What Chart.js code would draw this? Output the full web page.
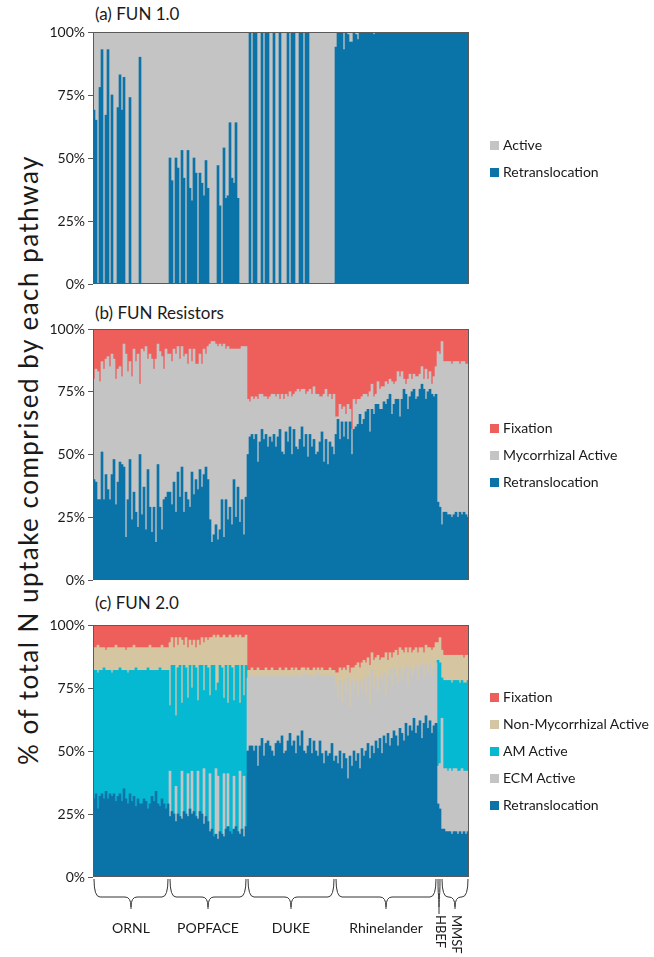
<!DOCTYPE html>
<html><head><meta charset="utf-8"><title>FUN N uptake pathways</title>
<script src="https://cdn.jsdelivr.net/npm/chart.js@4/dist/chart.umd.min.js"></script>
<style>
html,body{margin:0;padding:0;background:#fff;}
body{width:654px;height:957px;position:relative;overflow:hidden;font-family:Lato,"Open Sans",sans-serif;color:#1a1a1a;}
.panel{position:absolute;left:0;width:654px;}
.panel canvas{display:block;}
.ptitle{position:absolute;left:95px;font-size:17px;line-height:20px;white-space:nowrap;}
.legend{position:absolute;left:490px;top:0;font-size:14px;}
.item{position:absolute;left:0;height:18px;line-height:18px;white-space:nowrap;}
.sw{position:absolute;left:0;top:5px;width:9px;height:9px;}
.lbl{position:absolute;left:13px;top:0;}
#ytitle{position:absolute;left:-322px;top:444px;width:700px;height:32px;line-height:32px;text-align:center;font-size:26px;letter-spacing:1.5px;transform:rotate(-90deg);white-space:nowrap;}
</style></head>
<body>
<div id="ytitle">% of total N uptake comprised by each pathway</div>
<div class="ptitle" style="top:4px">(a) FUN 1.0</div>
<div class="ptitle" style="top:303px">(b) FUN Resistors</div>
<div class="ptitle" style="top:593px">(c) FUN 2.0</div>
<div class="panel" style="top:0;height:300px"><canvas id="ca" width="654" height="300"></canvas></div>
<div class="panel" style="top:300px;height:300px"><canvas id="cb" width="654" height="300"></canvas></div>
<div class="panel" style="top:600px;height:357px"><canvas id="cc" width="654" height="357"></canvas></div>
<script>
// ---------- categories ----------
const sites = ['ORNL','POPFACE','DUKE','Rhinelander','HBEF','MMSF'];
const yTicks = [0,25,50,75,100];

// ---------- (a) FUN 1.0 : one sub-array per site ----------
const fun1Retranslocation = [
  [69,65,0,78,93,0,67,93,0,75, 0,0,70,83,69,82,0,0,74,0, 0,0,0,90,0,0,0,0,0,0, 0,0,0,0,0,0,0,0],
  [50,41,0,50,46,0,53,42,0,53, 38,33,50,44,0,44,40,35,49,38, 0,0,0,0,47,31,0,54,34,35, 64,42,40,64,34,0,0,0,0],
  [0,100,0,100,100,0,0,100,0,100, 100,0,0,100,0,0,100,0,0,0, 100,0,100,100,0,0,100,100,0,100, 100,0,0,0,0,0,0,0,0,0, 0,0,0,0],
  [94,100,100,100,93,100,99,96,96,100, 99,97,100,100,100,100,100,100,100,99, 100,100,100,100,100,100,100,100,100,100, 100,100,100,100,100,100,100,100,100,100, 100,100,100,100,100,100,100,100,100,100,100],
  [100,100],
  [100,100,100,100,100,100,100,100,100,100,100,100,100,100]
];
const fun1Active = [
  [31,35,100,22,7,100,33,7,100,25, 100,100,30,17,31,18,100,100,26,100, 100,100,100,10,100,100,100,100,100,100, 100,100,100,100,100,100,100,100],
  [50,59,100,50,54,100,47,58,100,47, 62,67,50,56,100,56,60,65,51,62, 100,100,100,100,53,69,100,46,66,65, 36,58,60,36,66,100,100,100,100],
  [100,0,100,0,0,100,100,0,100,0, 0,100,100,0,100,100,0,100,100,100, 0,100,0,0,100,100,0,0,100,0, 0,100,100,100,100,100,100,100,100,100, 100,100,100,100],
  [6,0,0,0,7,0,1,4,4,0, 1,3,0,0,0,0,0,0,0,1, 0,0,0,0,0,0,0,0,0,0, 0,0,0,0,0,0,0,0,0,0, 0,0,0,0,0,0,0,0,0,0,0],
  [0,0],
  [0,0,0,0,0,0,0,0,0,0,0,0,0,0]
];

// ---------- (b) FUN Resistors ----------
const resRetranslocation = [
  [40,39,32,32,51,32,42,36,32,42, 48,30,39,47,46,45,17,32,48,24, 35,27,21,50,26,37,20,44,29,19, 29,15,46,29,20,32,33,35],
  [35,30,39,27,43,33,45,27,35,32, 29,43,34,40,36,44,37,42,45,40, 24,15,18,22,16,20,32,17,32,24, 29,22,40,25,37,23,32,18,33],
  [50,57,58,56,58,47,55,60,56,58, 53,57,55,58,53,57,60,51,50,59, 55,61,50,60,53,52,56,61,53,58, 49,58,53,56,50,51,55,59,47,56, 46,55,53,50],
  [58,64,56,63,57,63,56,63,50,60, 61,62,66,62,64,67,68,59,68,66, 70,70,68,68,71,70,72,74,66,70, 72,72,65,72,76,74,68,73,75,76, 72,73,76,78,76,72,75,76,74,73,74],
  [31,29],
  [22,27,27,26,26,25,26,27,25,27,26,27,26,25]
];
const resMycorrhizalActive = [
  [40,45,51,47,36,52,46,53,53,48, 40,50,45,38,35,49,73,51,39,57, 57,60,69,28,66,54,73,44,61,69, 55,73,48,62,69,52,59,55],
  [55,57,53,63,50,55,48,62,55,54, 63,44,58,46,50,46,49,50,45,53, 70,80,77,72,77,74,61,77,60,69, 63,70,52,67,55,69,61,75,60],
  [22,14,15,16,15,25,19,14,17,15, 19,16,19,16,20,17,12,23,22,15, 18,14,23,14,22,24,19,15,23,16, 26,18,21,21,24,23,18,14,27,20, 27,19,19,24],
  [7,1,14,5,12,3,14,5,10,12, 9,10,6,11,10,7,5,16,10,7, 4,9,8,9,6,9,6,6,13,8, 7,11,16,11,4,4,12,9,5,6, 9,8,6,7,4,12,5,7,4,8,11],
  [60,61],
  [73,60,60,61,61,61,61,60,62,59,61,60,60,61]
];
const resFixation = [
  [20,16,17,21,13,16,12,11,15,10, 12,20,16,15,19,6,10,17,13,19, 8,13,10,22,8,9,7,12,10,12, 16,12,6,9,11,16,8,10],
  [10,13,8,10,7,12,7,11,10,14, 8,13,8,14,14,10,14,8,10,7, 6,5,5,6,7,6,7,6,8,7, 8,8,8,8,8,8,7,7,7],
  [28,29,27,28,27,28,26,26,27,27, 28,27,26,26,27,26,28,26,28,26, 27,25,27,26,25,24,25,24,24,26, 25,24,26,23,26,26,27,27,26,24, 27,26,28,26],
  [35,35,30,32,31,34,30,32,40,28, 30,28,28,27,26,26,27,25,22,27, 26,21,24,23,23,21,22,20,21,22, 21,17,19,17,20,22,20,18,20,18, 19,19,18,15,20,16,20,17,22,19,15],
  [9,10],
  [5,13,13,13,13,14,13,13,13,14,13,13,14,14]
];

// ---------- (c) FUN 2.0 ----------
const fun2Retranslocation = [
  [31,33,27,32,33,31,34,31,33,32, 33,30,32,33,30,35,31,29,33,30, 32,28,31,29,29,31,30,27,29,32, 30,34,29,28,31,29,27,29],
  [24,26,25,22,25,24,23,26,25,24, 27,25,26,24,23,26,25,21,24,22, 18,19,16,17,15,18,17,16,19,20, 18,17,19,20,18,17,19,16,20],
  [50,52,52,50,52,44,52,55,48,53, 54,52,50,48,53,54,53,56,49,50, 54,57,52,54,49,56,52,58,50,49, 52,55,49,54,50,48,54,49,45,50, 48,49,53,46],
  [48,45,50,43,49,47,39,48,44,50, 46,49,43,51,48,50,53,47,52,49, 54,51,55,49,56,53,57,52,55,58, 56,52,59,57,54,61,56,60,58,63, 57,60,62,55,61,64,59,62,57,60,61],
  [29,27],
  [19,19,18,18,18,17,18,18,17,18,17,18,17,18]
];
const fun2EcmActive = [
  [0,0,0,0,0,0,0,0,0,0, 0,0,0,0,0,0,0,0,0,0, 0,0,0,0,0,0,0,0,0,0, 0,0,0,0,0,0,0,0],
  [18,0,0,14,0,0,19,0,0,17, 0,17,0,0,19,0,0,22,0,0, 23,0,0,26,25,0,0,25,0,21, 0,0,21,0,0,25,0,24,0],
  [29,28,28,29,28,36,27,25,32,27, 25,28,30,31,27,26,27,23,31,30, 26,22,28,26,31,23,28,22,31,31, 28,25,30,26,30,33,26,31,35,30, 31,31,27,34],
  [28,26,28,26,28,26,40,19,34,24, 32,22,34,23,31,22,27,21,30,26, 25,22,25,28,25,19,22,30,21,25, 24,25,24,21,27,23,20,23,22,19, 27,18,21,30,18,20,22,23,23,23,24],
  [15,18],
  [44,24,25,24,25,25,25,25,25,24,26,24,25,24]
];
const fun2AmActive = [
  [51,49,54,50,49,52,48,51,49,49, 49,52,50,50,52,47,51,52,49,52, 50,55,51,53,53,51,52,56,53,50, 52,48,53,55,51,53,55,53],
  [26,58,59,28,58,60,27,58,58,30, 57,33,58,59,28,58,59,31,60,61, 31,65,68,31,37,66,66,30,65,28, 66,66,30,64,66,27,65,32,64],
  [0,0,0,0,0,0,0,0,0,0, 0,0,0,0,0,0,0,0,0,0, 0,0,0,0,0,0,0,0,0,0, 0,0,0,0,0,0,0,0,0,0, 0,0,0,0],
  [0,0,0,0,0,0,0,0,0,0, 0,0,0,0,0,0,0,0,0,0, 0,0,0,0,0,0,0,0,0,0, 0,0,0,0,0,0,0,0,0,0, 0,0,0,0,0,0,0,0,0,0,0],
  [42,40],
  [16,35,35,36,35,35,35,35,36,35,35,35,35,36]
];
const fun2NonMycorrhizalActive = [
  [9,9,11,9,9,8,8,9,9,10, 9,10,9,8,9,9,8,10,9,9, 10,8,9,9,9,9,9,8,10,9, 9,9,9,8,10,9,9,9],
  [25,11,7,31,9,11,25,8,12,20, 10,17,10,8,24,8,11,19,11,11, 23,11,12,21,19,11,12,25,11,26, 12,12,25,12,11,27,11,23,12],
  [3,2,3,3,2,3,3,2,2,3, 3,2,3,3,2,2,3,3,2,3, 2,3,3,2,3,3,2,3,2,2, 3,2,3,3,2,2,2,3,2,2, 3,3,2,2],
  [5,10,5,13,6,9,5,14,5,9, 6,14,6,11,7,13,7,16,7,11, 8,15,6,10,6,17,7,7,11,6, 10,11,8,12,8,7,13,8,9,8, 7,11,8,6,10,8,10,6,10,8,8],
  [7,10],
  [11,10,10,10,10,11,10,10,10,11,10,10,11,10]
];
const fun2Fixation = [
  [9,9,8,9,9,9,10,9,9,9, 9,8,9,9,9,9,10,9,9,9, 8,9,9,9,9,9,9,9,8,9, 9,9,9,9,8,9,9,9],
  [7,5,9,5,8,5,6,8,5,9, 6,8,6,9,6,8,5,7,5,6, 5,5,4,5,4,5,5,4,5,5, 4,5,5,4,5,4,5,5,4],
  [18,18,17,18,18,17,18,18,18,17, 18,18,17,18,18,18,17,18,18,17, 18,18,17,18,17,18,18,17,17,18, 17,18,18,17,18,17,18,17,18,18, 18,17,18,18],
  [19,19,17,18,17,18,16,19,17,17, 16,15,17,15,14,15,13,16,11,14, 13,12,14,13,13,11,14,11,13,11, 10,12,9,10,11,9,11,9,11,10, 9,11,9,9,11,8,9,9,10,9,7],
  [7,5],
  [10,12,12,12,12,12,12,12,12,12,12,13,12,12]
];

// ---------- build ----------
const COL = {retrans:'#0b73a7', gray:'#c4c4c4', fix:'#ee5f5b', tan:'#d5c5a2', am:'#06b9d3'};
const counts = fun1Retranslocation.map(a => a.length);
const labels = [];
sites.forEach((s, k) => { for (let i = 0; i < counts[k]; i++) labels.push(s + ' ' + (i + 1)); });
const flat = arr => arr.flat().map(v => v === 0 ? null : v);

Chart.defaults.font.family = 'Lato, "Open Sans", sans-serif';
Chart.defaults.font.size = 14;
Chart.defaults.color = '#1a1a1a';

const frame = {
  id: 'frame',
  afterDatasetsDraw(chart) {
    const {ctx, chartArea: a} = chart;
    ctx.save();
    ctx.strokeStyle = '#5a5a5a'; ctx.lineWidth = 1;
    ctx.strokeRect(Math.round(a.left) + 0.5, Math.round(a.top) + 0.5, Math.round(a.right - a.left) - 1, Math.round(a.bottom - a.top) - 1);
    ctx.restore();
  }
};

const braces = {
  id: 'braces',
  afterDraw(chart) {
    const {ctx, chartArea: a, scales: {x}} = chart;
    const half = (x.getPixelForValue(1) - x.getPixelForValue(0)) / 2;
    let start = 0;
    ctx.save();
    ctx.strokeStyle = '#333'; ctx.lineWidth = 1; ctx.fillStyle = '#1a1a1a';
    sites.forEach((s, k) => {
      const n = counts[k];
      const x0 = x.getPixelForValue(start) - half;
      const x1 = x.getPixelForValue(start + n - 1) + half;
      start += n;
      const xm = (x0 + x1) / 2, w = x1 - x0;
      const y0 = a.bottom + 2, y1 = a.bottom + 20;
      const narrow = w < 10;
      const y2 = narrow ? a.bottom + 37 : a.bottom + 32;
      const r = Math.min(6, w / 4);
      ctx.beginPath();
      ctx.moveTo(x0 + 1, y0);
      ctx.quadraticCurveTo(x0 + 1, y1, x0 + 1 + r, y1);
      ctx.lineTo(xm - r, y1);
      ctx.quadraticCurveTo(xm, y1, xm, Math.min(y2, y1 + 10));
      ctx.lineTo(xm, y2);
      ctx.moveTo(xm, Math.min(y2, y1 + 10));
      ctx.quadraticCurveTo(xm, y1, xm + r, y1);
      ctx.lineTo(x1 - 1 - r, y1);
      ctx.quadraticCurveTo(x1 - 1, y1, x1 - 1, y0);
      ctx.stroke();
      if (w < 40) {
        ctx.save();
        ctx.font = '13px Lato, "Open Sans", sans-serif';
        ctx.translate(xm + 1, a.bottom + 38);
        ctx.rotate(Math.PI / 2);
        ctx.textAlign = 'left'; ctx.textBaseline = 'middle';
        ctx.fillText(s, 0, 0);
        ctx.restore();
      } else {
        ctx.font = '14px Lato, "Open Sans", sans-serif';
        ctx.textAlign = 'center'; ctx.textBaseline = 'middle';
        ctx.fillText(s, xm, a.bottom + 51);
      }
    });
    ctx.restore();
  }
};

function makeLegend(pageTop, pageBottom, series) {
  const el = document.createElement('div');
  el.className = 'legend';
  const c = (pageTop + pageBottom) / 2, n = series.length;
  series.slice().reverse().forEach((s, i) => {
    const it = document.createElement('div');
    it.className = 'item';
    it.style.top = (c + (i - (n - 1) / 2) * 27 - 9) + 'px';
    it.innerHTML = '<span class="sw" style="background:' + s.color + '"></span><span class="lbl">' + s.label + '</span>';
    el.appendChild(it);
  });
  document.body.appendChild(el);
}

function makePanel(id, pageTop, areaTop, areaBottom, height, series, extra) {
  new Chart(document.getElementById(id), {
    type: 'bar',
    data: {
      labels,
      datasets: series.map(s => ({
        label: s.label, data: flat(s.data), backgroundColor: s.color,
        borderWidth: 0, barPercentage: 1, categoryPercentage: 1
      }))
    },
    options: {
      responsive: false, animation: false, events: [],
      layout: {padding: {left: 0, right: 185, top: areaTop, bottom: height - areaBottom}},
      plugins: {legend: {display: false}, tooltip: {enabled: false}},
      scales: {
        x: {stacked: true, display: false},
        y: {
          stacked: true, min: 0, max: 100,
          afterFit(s) { s.width = 93; },
          afterBuildTicks(s) { s.ticks = yTicks.map(v => ({value: v})); },
          ticks: {callback: v => v + '%', padding: 3, font: {size: 14}, color: '#1a1a1a'},
          grid: {drawOnChartArea: false, drawTicks: true, tickLength: 5, color: '#5a5a5a'},
          border: {display: false}
        }
      }
    },
    plugins: [frame].concat(extra || [])
  });
  makeLegend(pageTop + areaTop, pageTop + areaBottom, series);
}

makePanel('ca', 0, 32, 284, 300, [
  {label: 'Retranslocation', data: fun1Retranslocation, color: COL.retrans},
  {label: 'Active', data: fun1Active, color: COL.gray}
]);
makePanel('cb', 300, 29, 280, 300, [
  {label: 'Retranslocation', data: resRetranslocation, color: COL.retrans},
  {label: 'Mycorrhizal Active', data: resMycorrhizalActive, color: COL.gray},
  {label: 'Fixation', data: resFixation, color: COL.fix}
]);
makePanel('cc', 600, 25, 277, 357, [
  {label: 'Retranslocation', data: fun2Retranslocation, color: COL.retrans},
  {label: 'ECM Active', data: fun2EcmActive, color: COL.gray},
  {label: 'AM Active', data: fun2AmActive, color: COL.am},
  {label: 'Non-Mycorrhizal Active', data: fun2NonMycorrhizalActive, color: COL.tan},
  {label: 'Fixation', data: fun2Fixation, color: COL.fix}
], [braces]);
</script>
</body></html>
